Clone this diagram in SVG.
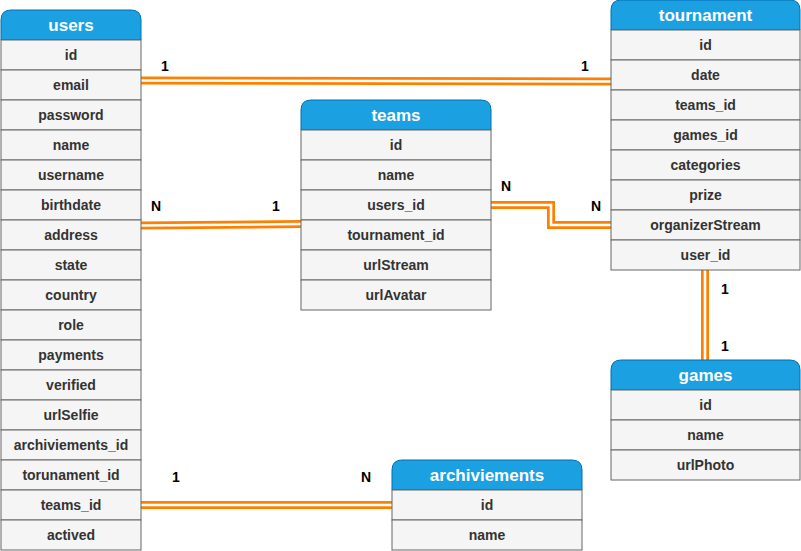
<svg xmlns="http://www.w3.org/2000/svg" width="801" height="551" viewBox="0 0 801 551">
<style>
.hd{fill:#1BA1E2;stroke:#006EAF;stroke-width:1}
.row{fill:#F5F5F5;stroke:#666666;stroke-width:1}
.ht{font-family:"Liberation Sans",Arial,sans-serif;font-size:17px;font-weight:bold;fill:#FFFFFF;text-anchor:middle}
.rt{font-family:"Liberation Sans",Arial,sans-serif;font-size:14px;font-weight:bold;fill:#333333;text-anchor:middle}
.lb{font-family:"Liberation Sans",Arial,sans-serif;font-size:14px;font-weight:bold;fill:#000000;text-anchor:middle}
.lo{fill:none;stroke:#FF8000;stroke-width:8;stroke-linejoin:miter}
.li{fill:none;stroke:#FFFFFF;stroke-width:2.6;stroke-linejoin:miter}
</style>
<rect width="801" height="551" fill="#FFFFFF"/>
<g id="connectors">
<path class="lo" d="M141,80.5 L611,81.5"/><path class="li" d="M140,80.5 L612,81.5"/>
<path class="lo" d="M141,225.5 L301,224"/><path class="li" d="M140,225.5 L302,224"/>
<path class="lo" d="M491,205 L551,205 L551,225 L611,225"/><path class="li" d="M490,205 L551,205 L551,225 L612,225"/>
<path class="lo" d="M705,270 L705,360"/><path class="li" d="M705,269 L705,361"/>
<path class="lo" d="M141,505 L392,505"/><path class="li" d="M140,505 L393,505"/>
<text class="lb" x="165" y="71">1</text>
<text class="lb" x="585" y="71">1</text>
<text class="lb" x="156" y="211">N</text>
<text class="lb" x="276" y="211">1</text>
<text class="lb" x="506" y="191">N</text>
<text class="lb" x="596" y="211">N</text>
<text class="lb" x="725" y="294">1</text>
<text class="lb" x="725" y="351">1</text>
<text class="lb" x="176" y="482">1</text>
<text class="lb" x="366" y="482">N</text>
</g>
<g id="users">
<path class="hd" d="M1,40 V20 Q1,10 11,10 H131 Q141,10 141,20 V40 Z"/>
<text class="ht" x="71" y="31">users</text>
<rect class="row" x="1" y="40" width="140" height="30"/><text class="rt" x="71" y="60">id</text>
<rect class="row" x="1" y="70" width="140" height="30"/><text class="rt" x="71" y="90">email</text>
<rect class="row" x="1" y="100" width="140" height="30"/><text class="rt" x="71" y="120">password</text>
<rect class="row" x="1" y="130" width="140" height="30"/><text class="rt" x="71" y="150">name</text>
<rect class="row" x="1" y="160" width="140" height="30"/><text class="rt" x="71" y="180">username</text>
<rect class="row" x="1" y="190" width="140" height="30"/><text class="rt" x="71" y="210">birthdate</text>
<rect class="row" x="1" y="220" width="140" height="30"/><text class="rt" x="71" y="240">address</text>
<rect class="row" x="1" y="250" width="140" height="30"/><text class="rt" x="71" y="270">state</text>
<rect class="row" x="1" y="280" width="140" height="30"/><text class="rt" x="71" y="300">country</text>
<rect class="row" x="1" y="310" width="140" height="30"/><text class="rt" x="71" y="330">role</text>
<rect class="row" x="1" y="340" width="140" height="30"/><text class="rt" x="71" y="360">payments</text>
<rect class="row" x="1" y="370" width="140" height="30"/><text class="rt" x="71" y="390">verified</text>
<rect class="row" x="1" y="400" width="140" height="30"/><text class="rt" x="71" y="420">urlSelfie</text>
<rect class="row" x="1" y="430" width="140" height="30"/><text class="rt" x="71" y="450">archiviements_id</text>
<rect class="row" x="1" y="460" width="140" height="30"/><text class="rt" x="71" y="480">torunament_id</text>
<rect class="row" x="1" y="490" width="140" height="30"/><text class="rt" x="71" y="510">teams_id</text>
<rect class="row" x="1" y="520" width="140" height="30"/><text class="rt" x="71" y="540">actived</text>
</g>
<g id="tournament">
<path class="hd" d="M611,30 V10 Q611,0 621,0 H790 Q800,0 800,10 V30 Z"/>
<text class="ht" x="705.5" y="21">tournament</text>
<rect class="row" x="611" y="30" width="189" height="30"/><text class="rt" x="705.5" y="50">id</text>
<rect class="row" x="611" y="60" width="189" height="30"/><text class="rt" x="705.5" y="80">date</text>
<rect class="row" x="611" y="90" width="189" height="30"/><text class="rt" x="705.5" y="110">teams_id</text>
<rect class="row" x="611" y="120" width="189" height="30"/><text class="rt" x="705.5" y="140">games_id</text>
<rect class="row" x="611" y="150" width="189" height="30"/><text class="rt" x="705.5" y="170">categories</text>
<rect class="row" x="611" y="180" width="189" height="30"/><text class="rt" x="705.5" y="200">prize</text>
<rect class="row" x="611" y="210" width="189" height="30"/><text class="rt" x="705.5" y="230">organizerStream</text>
<rect class="row" x="611" y="240" width="189" height="30"/><text class="rt" x="705.5" y="260">user_id</text>
</g>
<g id="teams">
<path class="hd" d="M301,130 V110 Q301,100 311,100 H481 Q491,100 491,110 V130 Z"/>
<text class="ht" x="396" y="121">teams</text>
<rect class="row" x="301" y="130" width="190" height="30"/><text class="rt" x="396" y="150">id</text>
<rect class="row" x="301" y="160" width="190" height="30"/><text class="rt" x="396" y="180">name</text>
<rect class="row" x="301" y="190" width="190" height="30"/><text class="rt" x="396" y="210">users_id</text>
<rect class="row" x="301" y="220" width="190" height="30"/><text class="rt" x="396" y="240">tournament_id</text>
<rect class="row" x="301" y="250" width="190" height="30"/><text class="rt" x="396" y="270">urlStream</text>
<rect class="row" x="301" y="280" width="190" height="30"/><text class="rt" x="396" y="300">urlAvatar</text>
</g>
<g id="games">
<path class="hd" d="M611,390 V370 Q611,360 621,360 H790 Q800,360 800,370 V390 Z"/>
<text class="ht" x="705.5" y="381">games</text>
<rect class="row" x="611" y="390" width="189" height="30"/><text class="rt" x="705.5" y="410">id</text>
<rect class="row" x="611" y="420" width="189" height="30"/><text class="rt" x="705.5" y="440">name</text>
<rect class="row" x="611" y="450" width="189" height="30"/><text class="rt" x="705.5" y="470">urlPhoto</text>
</g>
<g id="archiviements">
<path class="hd" d="M392,490 V470 Q392,460 402,460 H572 Q582,460 582,470 V490 Z"/>
<text class="ht" x="487" y="481">archiviements</text>
<rect class="row" x="392" y="490" width="190" height="30"/><text class="rt" x="487" y="510">id</text>
<rect class="row" x="392" y="520" width="190" height="30"/><text class="rt" x="487" y="540">name</text>
</g>
</svg>
